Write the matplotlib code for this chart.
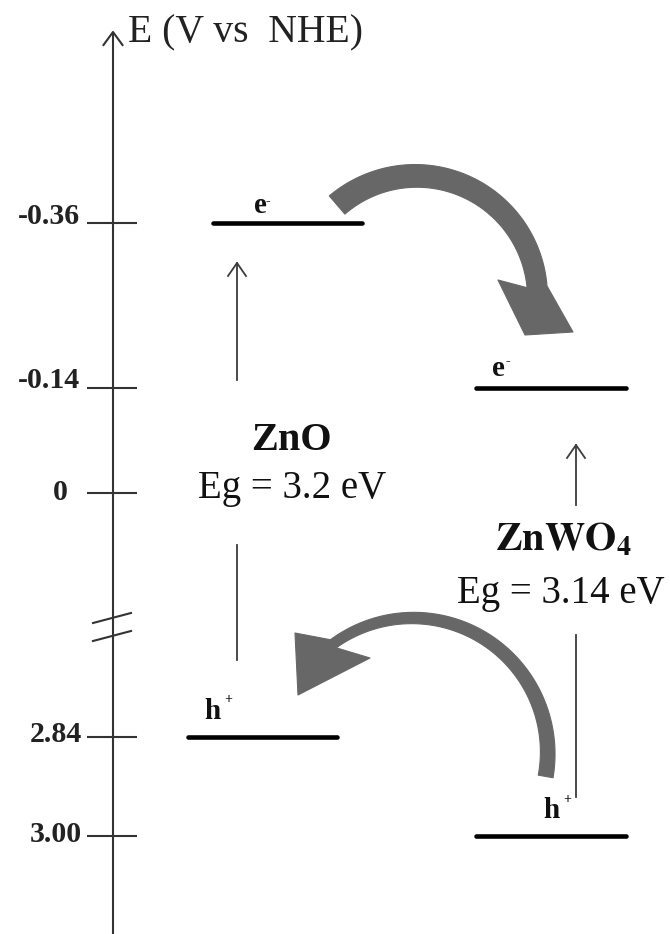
import numpy as np
import matplotlib
matplotlib.use('Agg')
import matplotlib.pyplot as plt
from matplotlib.transforms import Affine2D
from matplotlib.patches import Polygon

plt.rcParams['mathtext.fontset'] = 'stix'
plt.rcParams['font.family'] = ['Liberation Serif', 'DejaVu Serif']

# ---------------- data ----------------
materials = ['ZnO', r'$\mathbf{ZnWO_4}$']
cb_levels = [-0.36, -0.14]          # conduction band (V vs NHE)
vb_levels = [2.84, 3.00]            # valence band (V vs NHE)
band_gaps = [3.2, 3.14]             # eV
tick_values = [-0.36, -0.14, 0.0, 2.84, 3.00]
tick_labels = ['-0.36', '-0.14', '0', '2.84', '3.00']
axis_title = 'E (V vs  NHE)'

# ---------------- layout ----------------
W, H = 670, 934
PT = 72.0 / 100.0   # points per pixel

fig = plt.figure(figsize=(W / 100, H / 100), dpi=100)
ax = fig.add_axes([0, 0, 1, 1])
ax.set_axis_off()

# broken energy scale (two linear parts joined at the axis break)
UP_SLOPE, UP_ZERO = 750.0, 493.0
LO_SLOPE, LO_REF, LO_E = 619.0, 737.0, 2.84
E_BREAK_HI, E_BREAK_LO = 0.17, 2.66
E_k = np.array([-3.0, E_BREAK_HI, E_BREAK_LO, 6.0])
y_k = np.array([UP_ZERO + UP_SLOPE * e for e in (-3.0, E_BREAK_HI)] +
               [LO_REF + LO_SLOPE * (e - LO_E) for e in (E_BREAK_LO, 6.0)])


def forward(e):
    return np.interp(e, E_k, y_k)


def inverse(y):
    return np.interp(y, y_k, E_k)


ax.set_yscale('function', functions=(forward, inverse))
ax.set_xlim(0, W)
ax.set_ylim(float(inverse(H)), float(inverse(0)))

# pixel transform for decorations
px = Affine2D().scale(1 / W, -1 / H).translate(0, 1) + fig.transFigure

AX_COL = '#333333'
THIN_COL = '#3c3c3c'
ARC_COL = '#676767'

# energy axis with arrow
ax.plot([113, 113], [933, 33], transform=px, color=AX_COL, lw=1.5)
ax.plot([103.5, 113, 122.5], [45, 32, 45], transform=px, color=AX_COL, lw=1.5)
ax.text(128, 42, axis_title, transform=px, fontsize=28.5, ha='left', va='baseline',
        color='#222222')
# axis break marks
ax.plot([93, 131], [623, 613], transform=px, color=AX_COL, lw=1.5)
ax.plot([93, 131], [641, 631], transform=px, color=AX_COL, lw=1.5)

# ticks and tick labels
ax.hlines(tick_values, 87, 137, color=AX_COL, lw=1.5)
label_right = [80, 80, 68, 82, 82]
label_dy = [7, 7, 0, 3, 2]
for v, lab, xr, dy in zip(tick_values, tick_labels, label_right, label_dy):
    ax.annotate(lab, xy=(xr, v), xycoords='data', xytext=(0, dy * PT),
                textcoords='offset points', ha='right', va='center',
                fontsize=21.5, fontweight='bold', color='#222222')

# band levels
cb_x = [(213, 362), (476, 626)]
vb_x = [(188, 337), (476, 626)]
for i in range(2):
    ax.plot(cb_x[i], [cb_levels[i]] * 2, color='black', lw=3.3, solid_capstyle='round')
    ax.plot(vb_x[i], [vb_levels[i]] * 2, color='black', lw=3.3, solid_capstyle='round')


def carrier(letter, sign, x, level, lift, sdx, sdy):
    ax.annotate(letter, xy=(x, level), xytext=(0, lift * PT), textcoords='offset points',
                ha='left', va='baseline', fontsize=21, fontweight='bold', color='#111111')
    ax.annotate(sign, xy=(x, level), xytext=(sdx * PT, (lift + sdy) * PT),
                textcoords='offset points', ha='center', va='center',
                fontsize=10, fontweight='bold', color='#111111')


carrier('e', '-', 254, cb_levels[0], 10, 14, 11)
carrier('e', '-', 492, cb_levels[1], 12, 16, 14)
carrier('h', '+', 204, vb_levels[0], 18, 24, 19)
carrier('h', '+', 543, vb_levels[1], 18, 24, 19)

# material names and band gaps
name_pos = [(291, 450), (563, 550)]
eg_pos = [(292, 498), (561, 603)]
for i in range(2):
    ax.text(*name_pos[i], materials[i], transform=px, fontsize=29, fontweight='bold',
            ha='center', va='baseline', color='#111111')
    ax.text(*eg_pos[i], f'Eg = {band_gaps[i]} eV', transform=px, fontsize=28,
            ha='center', va='baseline', color='#111111')


# excitation arrows (thin, interrupted by labels)
def thin_arrow(x, segs, tip):
    for y0, y1 in segs:
        ax.plot([x, x], [y0, y1], transform=px, color=THIN_COL, lw=1.3)
    ax.plot([x - 9, x, x + 9], [tip + 13, tip, tip + 13], transform=px,
            color=THIN_COL, lw=1.3)


thin_arrow(237, [(660, 545), (380, 263)], 263)
thin_arrow(576, [(797, 635), (505, 445)], 445)


# curved transfer arrows
def curved_arrow(cx, cy, r, th0, th1, w0, w1, head, n=120):
    th = np.radians(np.linspace(th0, th1, n))
    w = np.linspace(w0, w1, n)
    xo = cx + (r + w / 2) * np.cos(th)
    yo = cy - (r + w / 2) * np.sin(th)
    xi = cx + (r - w / 2) * np.cos(th)
    yi = cy - (r - w / 2) * np.sin(th)
    pts = list(zip(xo, yo)) + head + list(zip(xi[::-1], yi[::-1]))
    poly = Polygon(pts, closed=True, transform=px, facecolor=ARC_COL,
                   edgecolor=ARC_COL, lw=0.8, joinstyle='round')
    ax.add_patch(poly)


# electrons: ZnO CB -> ZnWO4 CB
curved_arrow(416, 297.4, 121.5, 130.5, 5, 24, 20,
             [(573, 332), (525, 335), (498, 280)])
# holes: ZnWO4 VB -> ZnO VB
curved_arrow(412.7, 753, 135, -10, 126, 15, 10,
             [(295, 633), (298, 695), (370, 658)])

fig.savefig('out.png', dpi=100)
